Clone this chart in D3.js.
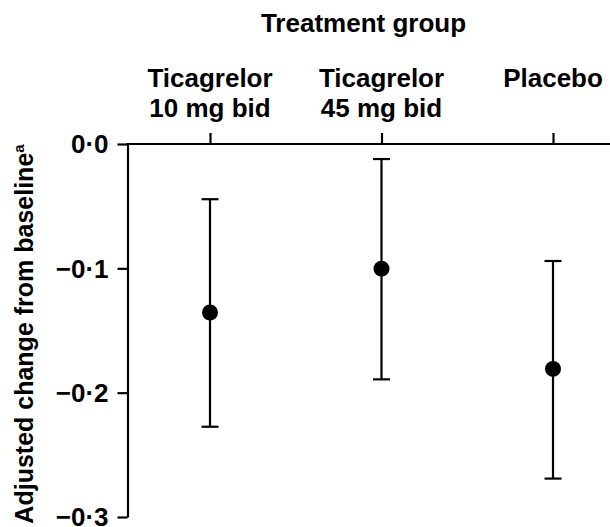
<!DOCTYPE html>
<html>
<head>
<meta charset="utf-8">
<script src="https://cdn.jsdelivr.net/npm/d3@7"></script>
<style>
  body { margin: 0; background: #fff; }
  svg text { font-family: "Liberation Sans", Arial, sans-serif; font-weight: bold; fill: #000; }
</style>
</head>
<body>
<div id="chart"></div>
<script>
// data
const groups = ["Ticagrelor 10 mg bid", "Ticagrelor 45 mg bid", "Placebo"];
const groupLines = [["Ticagrelor", "10 mg bid"], ["Ticagrelor", "45 mg bid"], ["Placebo"]];
const means = [-0.1355, -0.1003, -0.1809];
const upper = [-0.0444, -0.0121, -0.0941];
const lower = [-0.2274, -0.1893, -0.2691];
const yTicks = [0, -0.1, -0.2, -0.3];

const width = 610;
const height = 527;
const axisX = 127.5;
const axisTopY = 144;

const svg = d3.select("#chart")
    .append("svg")
    .attr("width", width)
    .attr("height", height);

// scales
let xScale = d3.scalePoint()
    .domain(groups)
    .range([210, 553]);

let yScale = d3.scaleLinear()
    .domain([0, -0.3])
    .range([axisTopY, 517]);

const fmt = d => d3.format(".1f")(d).replace("-", "\u2013").replace(".", "\u00b7");

// y axis
let yAxis = d3.axisLeft(yScale)
    .tickValues(yTicks)
    .tickSize(10)
    .tickSizeOuter(0)
    .tickPadding(9)
    .tickFormat(fmt);

let gy = svg.append("g")
    .attr("transform", "translate(" + axisX + ",0)")
    .call(yAxis);
gy.selectAll("path, line").attr("stroke", "#000").attr("stroke-width", 2.2);
gy.selectAll("text")
    .attr("font-size", "26px")
    .attr("font-family", "Liberation Sans, Arial, sans-serif")
    .attr("font-weight", "bold")
    .attr("dy", "0.34em");

// top axis (ticks at the groups)
let xAxis = d3.axisTop(xScale)
    .tickSize(11)
    .tickSizeOuter(0)
    .tickFormat("");

let gx = svg.append("g")
    .attr("transform", "translate(0," + axisTopY + ")")
    .call(xAxis);
gx.select(".domain").remove();
gx.selectAll("line").attr("stroke", "#000").attr("stroke-width", 2.2);

svg.append("line")
    .attr("x1", axisX - 1.1)
    .attr("x2", width)
    .attr("y1", axisTopY)
    .attr("y2", axisTopY)
    .attr("stroke", "#000")
    .attr("stroke-width", 2.2);

// group labels
groups.forEach((g, i) => {
    let t = svg.append("text")
        .attr("text-anchor", "middle")
        .attr("font-size", "26px")
        .attr("x", xScale(g))
        .attr("y", 87);
    groupLines[i].forEach((line, j) => {
        t.append("tspan")
            .attr("x", xScale(g))
            .attr("dy", j === 0 ? 0 : 30)
            .text(line);
    });
});

// title
svg.append("text")
    .attr("x", 363.5)
    .attr("y", 32)
    .attr("text-anchor", "middle")
    .attr("font-size", "26px")
    .text("Treatment group");

// y label
let yLabel = svg.append("text")
    .attr("transform", "translate(33," + 334 + ") rotate(-90)")
    .attr("text-anchor", "middle")
    .attr("font-size", "25px");
yLabel.append("tspan").text("Adjusted change from baseline");
yLabel.append("tspan")
    .attr("font-size", "15px")
    .attr("dy", -9)
    .text("a");

// error bars
let bars = svg.append("g");
groups.forEach((g, i) => {
    let x = xScale(g);
    bars.append("line")
        .attr("x1", x).attr("x2", x)
        .attr("y1", yScale(upper[i])).attr("y2", yScale(lower[i]))
        .attr("stroke", "#000").attr("stroke-width", 2.2);
    [upper[i], lower[i]].forEach(v => {
        bars.append("line")
            .attr("x1", x - 8.5).attr("x2", x + 8.5)
            .attr("y1", yScale(v)).attr("y2", yScale(v))
            .attr("stroke", "#000").attr("stroke-width", 2.2);
    });
});

svg.selectAll("circle")
    .data(groups)
    .enter()
    .append("circle")
    .attr("cx", d => xScale(d))
    .attr("cy", (d, i) => yScale(means[i]))
    .attr("r", 8)
    .attr("fill", "#000");
</script>
</body>
</html>
